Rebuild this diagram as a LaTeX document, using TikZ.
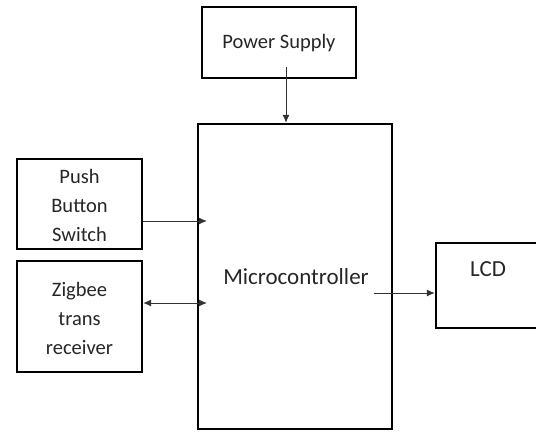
\documentclass[tikz,border=0pt]{standalone}
\usepackage{fontspec}
\setmainfont{Carlito}
\usetikzlibrary{arrows.meta}
\begin{document}
\begin{tikzpicture}[x=1pt,y=-1pt,
  blk/.style={draw=black,line width=2.4pt,inner sep=0pt,fill=white},
  lbl/.style={text=black!85,font=\fontsize{20.5}{29}\selectfont,align=center,inner sep=0pt},
  biglbl/.style={text=black!85,font=\fontsize{23}{29}\selectfont,inner sep=0pt},
  conn/.style={draw=black!80,line width=1pt},
  tip/.style={-{Latex[length=8pt,width=7pt]}},
  dtip/.style={{Latex[length=8pt,width=7pt]}-{Latex[length=8pt,width=7pt]}}]
\useasboundingbox (0,0) rectangle (536,432);
% boxes
\node[blk,minimum width=154pt,minimum height=71pt] (ps) at (279,42.5) {};
\node[lbl] (pstext) at (279,43) {Power Supply};
\node[blk,minimum width=194pt,minimum height=305pt] (mc) at (295,276.5) {};
\node[biglbl] (mctext) at (296,277) {Microcontroller};
\node[blk,minimum width=125pt,minimum height=90pt] (pb) at (79.5,204) {};
\node[lbl] (pbtext) at (79.5,205) {Push\\Button\\Switch};
\node[blk,minimum width=125pt,minimum height=111pt] (zb) at (79.5,316.5) {};
\node[lbl] (zbtext) at (79.5,318) {Zigbee\\trans\\receiver};
\node[blk,minimum width=120pt,minimum height=85pt] (lcd) at (496,285.5) {};
\node[biglbl] (lcdtext) at (488,269) {LCD};
% connector end points
\coordinate (psout) at (286,67);
\coordinate (pbin) at (207,221);
\coordinate (zbin) at (207,303);
\coordinate (mcout) at (374,293);
% connectors
\draw[conn,tip] (psout) -- (psout |- mc.north);
\draw[conn,tip] (pbin -| pb.east) -- (pbin);
\draw[conn,dtip] (zbin -| zb.east) -- (zbin);
\draw[conn,tip] (mcout) -- (mcout -| lcd.west);
\end{tikzpicture}
\end{document}
